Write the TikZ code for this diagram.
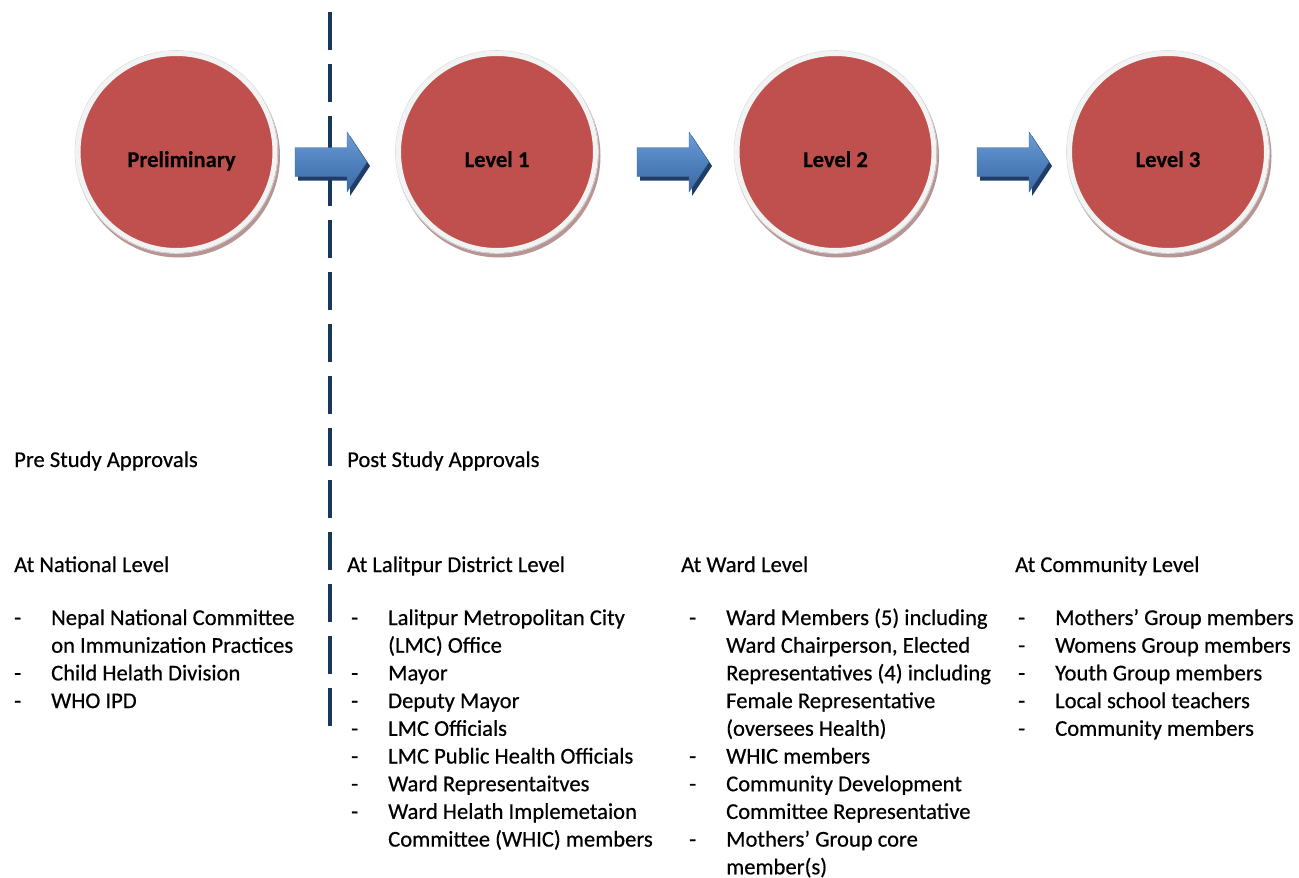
\documentclass[tikz,border=0pt]{standalone}
\usepackage{fontspec}
\setmainfont{Carlito}[FakeBold=0.5]
\newfontfamily\bodyfont{Carlito}[FakeBold=0.5]
\newfontfamily\labelfont{Carlito Bold}[FakeBold=0.4]
\usepackage{array}
\definecolor{circred}{HTML}{C0504D}
\definecolor{ringgray}{HTML}{F2F3F3}
\definecolor{ringedge}{HTML}{DADDDD}
\definecolor{circshadow}{HTML}{B89595}
\definecolor{navy}{HTML}{17375E}
\definecolor{arrtop}{HTML}{6E9DD8}
\definecolor{arrmid}{HTML}{4F81BD}
\definecolor{arrbot}{HTML}{3D69A6}
\definecolor{arrshadow}{HTML}{1F3D66}
\newcommand{\txtfont}{\bodyfont\fontsize{22.6}{27.7}\selectfont}
\newcommand{\lblfont}{\labelfont\fontsize{22.6}{27.7}\selectfont}
\newcommand{\blockarrow}[3]{% name, left x, center y
  \coordinate (#1) at (#2,#3);
  \fill[arrshadow] ([shift={(3,4)}]#1) ++(0,-14.5) -- ++(52,0) -- ++(0,-15.5) -- ++(20,30) -- ++(-20,30) -- ++(0,-15.5) -- ++(-52,0) -- cycle;
  \shade[top color=arrtop, bottom color=arrbot, middle color=arrmid, draw=arrmid!80!black, line width=0.4pt]
    (#1) ++(0,-14.5) -- ++(52,0) -- ++(0,-15.5) -- ++(20,30) -- ++(-20,30) -- ++(0,-15.5) -- ++(-52,0) -- cycle;
}
\begin{document}
\begin{tikzpicture}[x=1pt,y=-1pt,
  stage/.style={circle, minimum size=197pt, inner sep=0pt, fill=circred, draw=ringgray, line width=5pt, font=\lblfont},
  ringout/.style={circle, minimum size=203pt, inner sep=0pt, draw=ringedge, line width=0.6pt},
  cshadow/.style={circle, minimum size=203pt, inner sep=0pt, fill=circshadow},
  heading/.style={anchor=base west, inner sep=0pt, font=\txtfont},
  list/.style={anchor=base west, inner sep=0pt, font=\txtfont},
  divider/.style={draw=navy, line width=3.6pt, dash pattern=on 37.5pt off 14.5pt}
]
\useasboundingbox (0,0) rectangle (1299,878);

% divider
\coordinate (dtop) at (330,12);
\coordinate (dbot) at (330,726);
\draw[divider] (dtop) -- (dbot);

% circles
\foreach \n/\x in {c0/176.5, c1/497, c2/835.5, c3/1168} {
  \node[cshadow] at (\x+2,156) {};
}
\node[stage] (c0) at (176.5,152) {\raisebox{-15pt}[0pt][0pt]{\hspace*{10pt}Preliminary}};
\node[stage] (c1) at (497,152) {\raisebox{-15pt}[0pt][0pt]{Level 1}};
\node[stage] (c2) at (835.5,152) {\raisebox{-15pt}[0pt][0pt]{Level 2}};
\node[stage] (c3) at (1168,152) {\raisebox{-15pt}[0pt][0pt]{Level 3}};
\foreach \n in {c0,c1,c2,c3} { \node[ringout] at (\n.center) {}; }

% arrows
\blockarrow{a1}{295}{162}
\blockarrow{a2}{637}{162}
\blockarrow{a3}{977}{162}

% headings
\node[heading] (pre) at (14,467) {Pre Study Approvals};
\node[heading] (post) at (347,467) {Post Study Approvals};
\node[heading] (h1) at (14,572) {At National Level};
\node[heading] (h2) at (347,572) {At Lalitpur District Level};
\node[heading] (h3) at (681,572) {At Ward Level};
\node[heading] (h4) at (1015,572) {At Community Level};

% lists
\node[list] (l1) at (14,625) {\begin{tabular}[t]{@{}p{37pt}@{}l@{}}
- & Nepal National Committee\\
  & on Immunization Practices\\
- & Child Helath Division\\
- & WHO IPD
\end{tabular}};
\node[list] (l2) at (351,625) {\begin{tabular}[t]{@{}p{37pt}@{}l@{}}
- & Lalitpur Metropolitan City\\
  & (LMC) Office\\
- & Mayor\\
- & Deputy Mayor\\
- & LMC Officials\\
- & LMC Public Health Officials\\
- & Ward Representaitves\\
- & Ward Helath Implemetaion\\
  & Committee (WHIC) members
\end{tabular}};
\node[list] (l3) at (689,625) {\begin{tabular}[t]{@{}p{37pt}@{}l@{}}
- & Ward Members (5) including\\
  & Ward Chairperson, Elected\\
  & Representatives (4) including\\
  & Female Representative\\
  & (oversees Health)\\
- & WHIC members\\
- & Community Development\\
  & Committee Representative\\
- & Mothers’ Group core\\
  & member(s)
\end{tabular}};
\node[list] (l4) at (1018,625) {\begin{tabular}[t]{@{}p{37pt}@{}l@{}}
- & Mothers’ Group members\\
- & Womens Group members\\
- & Youth Group members\\
- & Local school teachers\\
- & Community members
\end{tabular}};
\end{tikzpicture}
\end{document}
